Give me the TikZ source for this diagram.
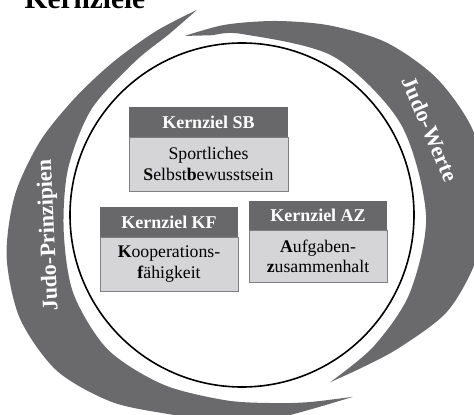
\documentclass[tikz,border=0pt]{standalone}
\usepackage{fontspec}
\setmainfont{Liberation Serif}
\usetikzlibrary{positioning}

\definecolor{bandgrau}{RGB}{106,106,109}
\definecolor{kopfgrau}{RGB}{104,104,106}
\definecolor{feldgrau}{RGB}{213,213,215}
\definecolor{randgrau}{RGB}{128,128,130}

\begin{document}
\begin{tikzpicture}[x=0.75pt, y=0.75pt,
    kopf/.style={fill=kopfgrau, text=white, font=\fontsize{13.5}{15}\selectfont\bfseries, minimum height=22.5pt, inner sep=0pt, outer sep=0pt},
    inhalt/.style={fill=feldgrau, draw=randgrau, line width=0.6pt, font=\fontsize{13.3}{15.5}\selectfont, minimum height=40.5pt, inner sep=0pt, outer sep=0pt, align=center},
    bandtext/.style={text=white, font=\fontsize{16.5}{18}\selectfont\bfseries}]
    \useasboundingbox (-242,-199) rectangle (232,215);
    \clip (-242,-199) rectangle (232,215);

    % Judo-Werte
    \fill[bandgrau] plot[smooth] coordinates {(107.7:188) (95:191) (80:197) (65:209) (50:225) (35:238) (20:246) (5:244) (-10:239) (-25:227) (-40:206) (-52:194) (-62.2:189)}
        -- plot[smooth] coordinates {(-62.2:189) (-45:186) (-25:185) (0:184) (30:183) (60:183) (90:181) (100:182.5) (107.7:188)} -- cycle;
    % Judo-Prinzipien
    \fill[bandgrau] plot[smooth] coordinates {(102.4:210) (115:203) (130:200) (145:204) (160:215) (175:228) (190:239) (205:245) (220:242) (235:228) (250:212) (265:207) (280:206) (301.4:213)}
        -- plot[smooth] coordinates {(301.4:213) (290:199) (280:191) (265:186) (245:187) (225:190) (205:186) (185:179) (165:180) (145:184) (125:187) (112:195) (102.4:210)} -- cycle;

    \draw[line width=1.2pt] (0,0) circle[radius=172];

    \node[bandtext, rotate=-67] (werte) at (188,86) {Judo-Werte};
    \node[bandtext, rotate=92.6] (prinz) at (-193,-20) {Judo-Prinzipien};

    \node[anchor=base west, font=\fontsize{22}{24}\selectfont\bfseries] (titel) at (-222,206) {Kernziele};

    \node[kopf, minimum width=119.25pt] (sbkopf) at (-33.5,93) {Kernziel SB};
    \node[inhalt, minimum width=119.25pt, below=0pt of sbkopf] (sbfeld) {Sportliches\\\textbf{S}elbst\textbf{b}ewusstsein};

    \node[kopf, minimum width=103.5pt] (kfkopf) at (-73,-7) {Kernziel KF};
    \node[inhalt, minimum width=103.5pt, below=0pt of kfkopf] (kffeld) {\textbf{K}ooperations-\\\textbf{f}ähigkeit};

    \node[kopf, minimum width=103.5pt] (azkopf) at (76,-0.5) {Kernziel AZ};
    \node[inhalt, minimum width=103.5pt, minimum height=39pt, below=0pt of azkopf] (azfeld) {\textbf{A}ufgaben-\\\textbf{z}usammenhalt};
\end{tikzpicture}
\end{document}
